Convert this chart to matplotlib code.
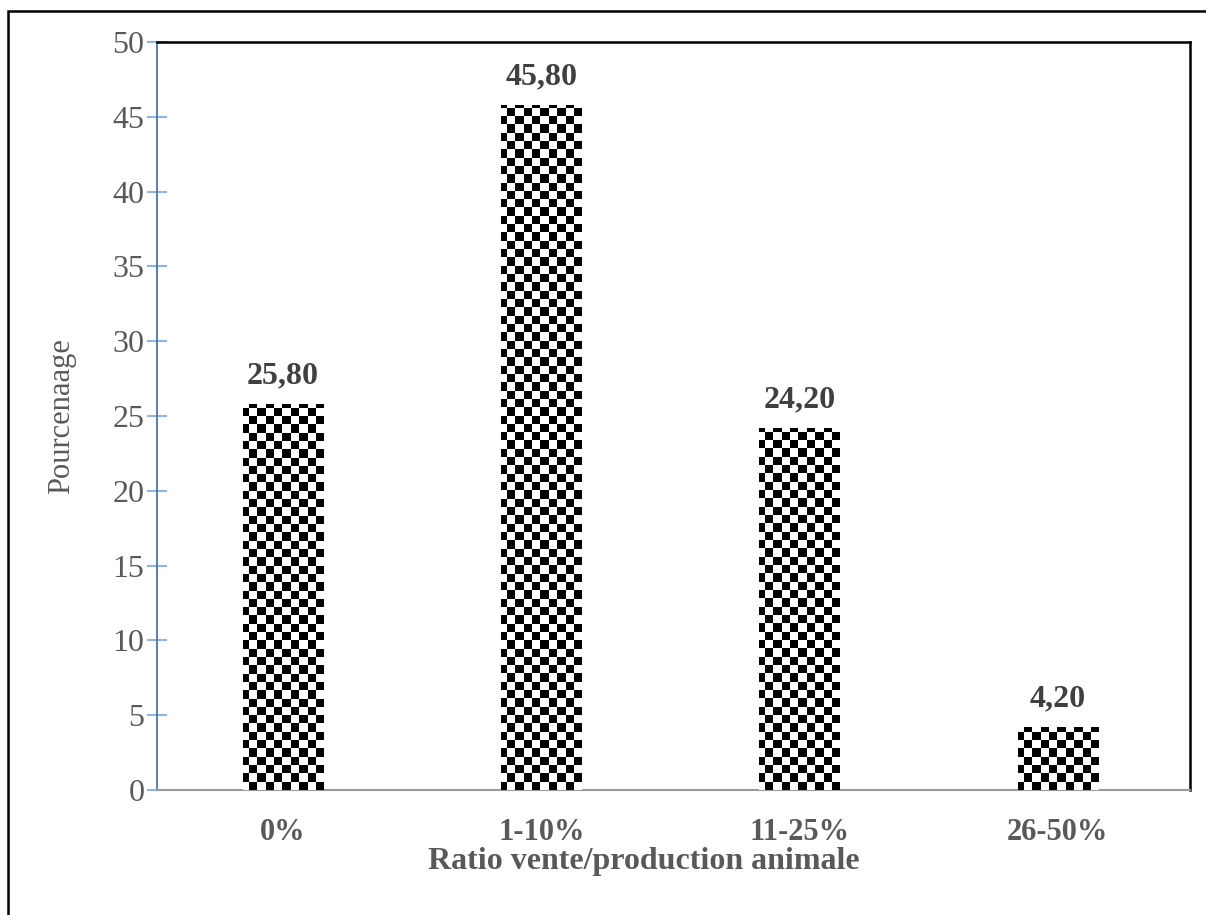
import numpy as np
import matplotlib
matplotlib.use("Agg")
import matplotlib.pyplot as plt
from matplotlib.patches import Rectangle

categories = ["0%", "1-10%", "11-25%", "26-50%"]
values = [25.80, 45.80, 24.20, 4.20]
value_labels = ["25,80", "45,80", "24,20", "4,20"]
yticks = [0, 5, 10, 15, 20, 25, 30, 35, 40, 45, 50]

plt.rcParams["font.family"] = ["Liberation Serif", "DejaVu Serif"]

W, H = 1206, 915
fig = plt.figure(figsize=(W / 100, H / 100), dpi=100)
ax = fig.add_axes([157 / W, 1 - 790 / H, (1190 - 157) / W, (790 - 42) / H])

XLIM = (-0.488, 3.512)
x = np.arange(len(categories))
bars = ax.bar(x, values, width=0.31, color="white", edgecolor="none", zorder=2)
ax.set_xlim(*XLIM)
ax.set_ylim(0, 50)

# checkerboard fill: ~8.3 px squares
cell_px = 8.33
ax_w_px = 1190 - 157
ax_h_px = 790 - 42
ncols = int(round(ax_w_px / cell_px))
nrows = int(round(ax_h_px / cell_px))
ii, jj = np.indices((nrows, ncols))
board = ((ii + jj) % 2).astype(float)
for b in bars:
    im = ax.imshow(board, cmap="gray", vmin=0, vmax=1, interpolation="nearest",
                   extent=(XLIM[0], XLIM[1], 0, 50), aspect="auto", zorder=3)
    im.set_clip_path(b)

ax.set_xlim(*XLIM)
ax.set_ylim(0, 50)

for b, lab in zip(bars, value_labels):
    ax.annotate(lab, (b.get_x() + b.get_width() / 2, b.get_height()),
                xytext=(0, 10), textcoords="offset points", ha="center", va="bottom",
                fontsize=23, fontweight="bold", color="#404040")

ax.set_yticks(yticks)
ax.set_yticklabels([str(t) for t in yticks], fontsize=23, color="#595959")
ax.set_xticks(x)
ax.set_xticklabels(categories, fontsize=22, fontweight="bold", color="#595959")
ax.tick_params(axis="x", length=0, pad=20)
ax.tick_params(axis="y", direction="inout", length=14, width=1.5, color="#8EB4E3", pad=2)

ax.set_xlabel("Ratio vente/production animale", fontsize=23, fontweight="bold",
              color="#595959")
ax.xaxis.set_label_coords((644 - 157) / (1190 - 157), -72 / (790 - 42))
ax.xaxis.label.set_va("center")
ax.set_ylabel("Pourcenaage", fontsize=22, color="#595959", labelpad=26)

for s in ["top", "right"]:
    ax.spines[s].set_color("black")
    ax.spines[s].set_linewidth(1.8)
ax.spines["bottom"].set_color("#9A9A9A")
ax.spines["bottom"].set_linewidth(1.5)
ax.spines["left"].set_color("#4A76A8")
ax.spines["left"].set_linewidth(1.3)

# figure border (left and top visible)
border = Rectangle((8 / W, -0.1), 1.2, 1.1 - 11 / H, transform=fig.transFigure,
                   fill=False, edgecolor="black", linewidth=1.8, zorder=10)
fig.patches.append(border)

fig.savefig("out.png", dpi=100)
